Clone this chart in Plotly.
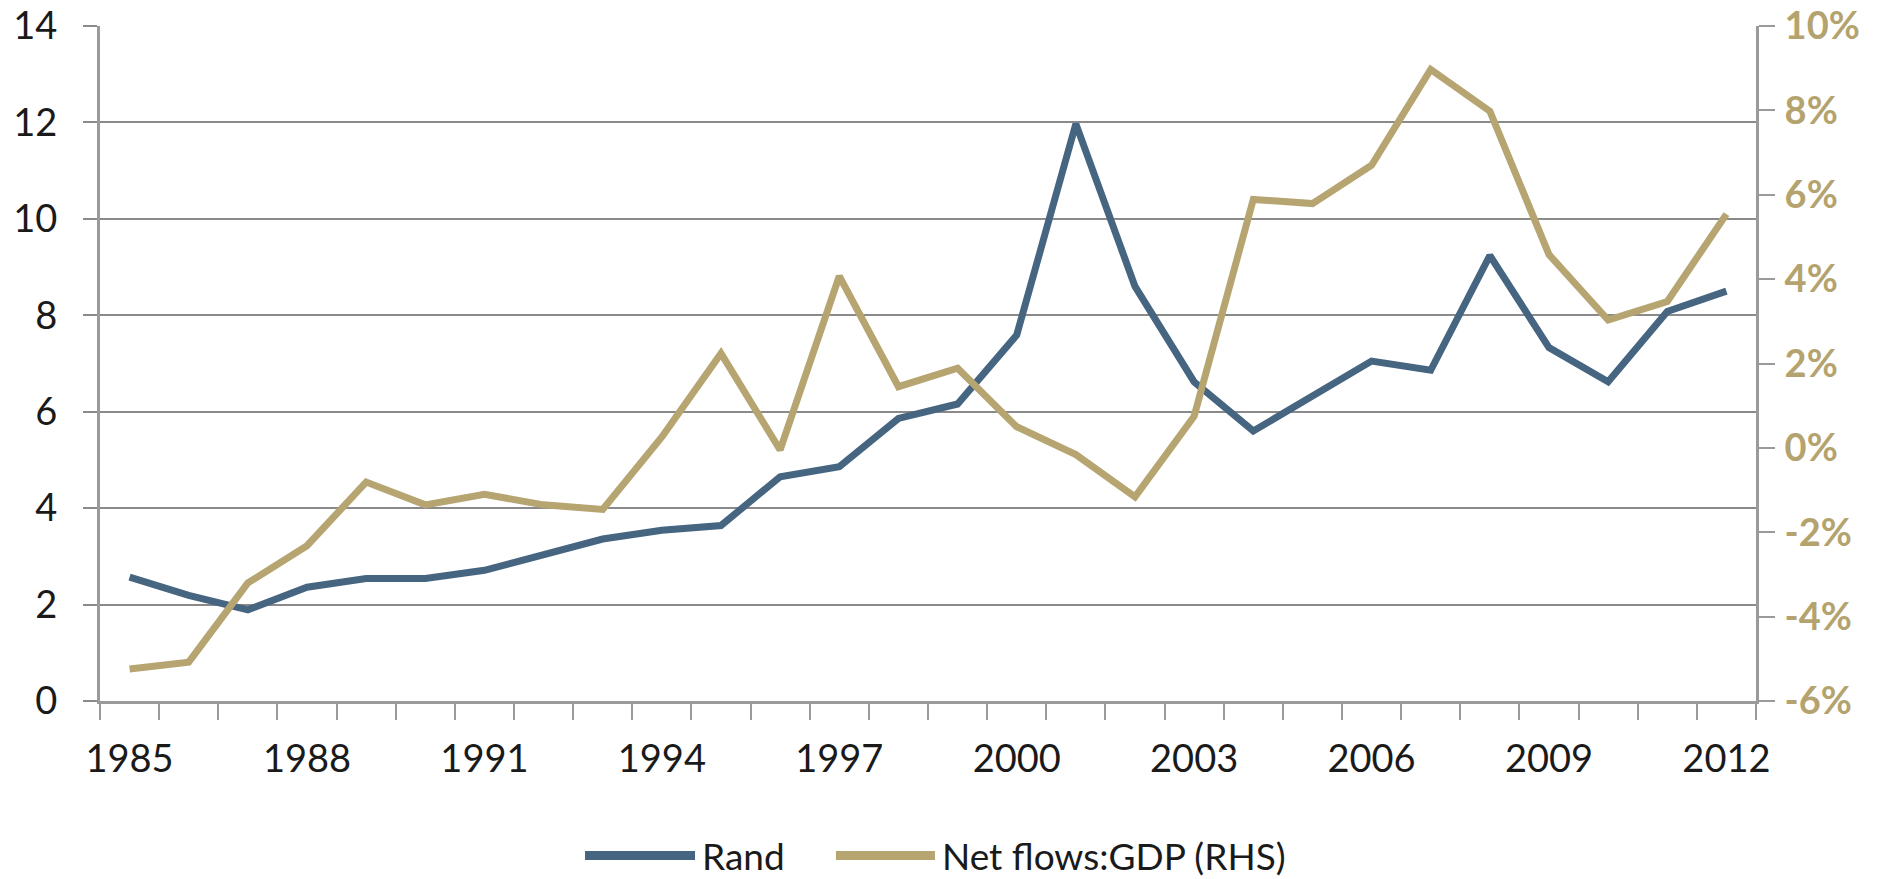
import plotly.graph_objects as go

# --- DATA ---
years = list(range(1985, 2013))
rand = [2.57, 2.19, 1.89, 2.36, 2.54, 2.54, 2.71, 3.05, 3.36, 3.54, 3.64, 4.65, 4.86, 5.86,
        6.16, 7.59, 11.97, 8.60, 6.62, 5.60, 6.33, 7.05, 6.86, 9.24, 7.33, 6.62, 8.08, 8.50]
net_flows_gdp = [-5.24, -5.08, -3.20, -2.32, -0.81, -1.35, -1.10, -1.35, -1.46, 0.26, 2.24, -0.05,
                 4.07, 1.45, 1.89, 0.50, -0.16, -1.16, 0.75, 5.89, 5.79, 6.70, 8.97, 7.98,
                 4.58, 3.03, 3.47, 5.54]
left_ticks = [0, 2, 4, 6, 8, 10, 12, 14]
right_ticks = [-6, -4, -2, 0, 2, 4, 6, 8, 10]
x_labels = years[::3]

BLUE = "#466581"
TAN = "#b6a571"
GRID = "#8a8a8a"
AXIS = "#9a9a9a"
FONT = "Lato, 'Open Sans', sans-serif"

fig = go.Figure()
fig.add_trace(go.Scatter(x=years, y=rand, mode="lines", name="Rand",
                         line=dict(color=BLUE, width=7), showlegend=False))
fig.add_trace(go.Scatter(x=years, y=net_flows_gdp, mode="lines", name="Net flows:GDP (RHS)",
                         line=dict(color=TAN, width=7), yaxis="y2", showlegend=False))

fig.update_layout(
    width=1885, height=879,
    margin=dict(l=100, r=129, t=26, b=178, autoexpand=False),
    plot_bgcolor="white", paper_bgcolor="white",
    font=dict(family=FONT, size=38, color="#1a1a1a"),
    xaxis=dict(
        range=[1984.5, 2012.5], tickmode="array", tickvals=x_labels,
        ticktext=[str(y) for y in x_labels], ticks="", showgrid=False,
        showline=True, linecolor=AXIS, linewidth=3, zeroline=False,
        ticklabelstandoff=22, automargin=False,
        minor=dict(tickmode="linear", tick0=1984.5, dtick=1, ticks="outside",
                   ticklen=16, tickwidth=2, tickcolor=AXIS, showgrid=False),
    ),
    yaxis=dict(
        range=[0, 14], tickvals=left_ticks, showgrid=True, gridcolor=GRID, gridwidth=2,
        showline=True, linecolor=AXIS, linewidth=3, zeroline=False,
        ticks="outside", ticklen=14, tickwidth=2, tickcolor=GRID,
        ticklabelstandoff=18, automargin=False, ticklabeloverflow="allow",
    ),
    yaxis2=dict(
        range=[-6, 10], tickvals=right_ticks, ticktext=[f"{v}%" for v in right_ticks],
        overlaying="y", side="right", showgrid=False, zeroline=False,
        showline=True, linecolor=AXIS, linewidth=3,
        ticks="outside", ticklen=16, tickwidth=2, tickcolor=AXIS,
        tickfont=dict(family=FONT, size=38, color="#b4a36e", weight="bold"),
        ticklabelstandoff=2, automargin=False, ticklabeloverflow="allow",
    ),
)

# legend drawn below the plot like the original (long line swatches)
legend_items = [("Rand", BLUE, 0.2929, 0.3593), ("Net flows:GDP (RHS)", TAN, 0.4444, 0.5042)]
for label, color, x0, x1 in legend_items:
    fig.add_shape(type="line", xref="paper", yref="paper", x0=x0, x1=x1, y0=-0.229, y1=-0.229,
                  line=dict(color=color, width=9))
    fig.add_annotation(xref="paper", yref="paper", x=x1 + 0.003, y=-0.229, text=label,
                       showarrow=False, xanchor="left", yanchor="middle",
                       font=dict(family=FONT, size=37, color="#1a1a1a"))

# drop the default page margin so the figure fills the window exactly
fig.write_html("out.html", config={"displayModeBar": False},
               post_script="document.body.style.margin='0';")
